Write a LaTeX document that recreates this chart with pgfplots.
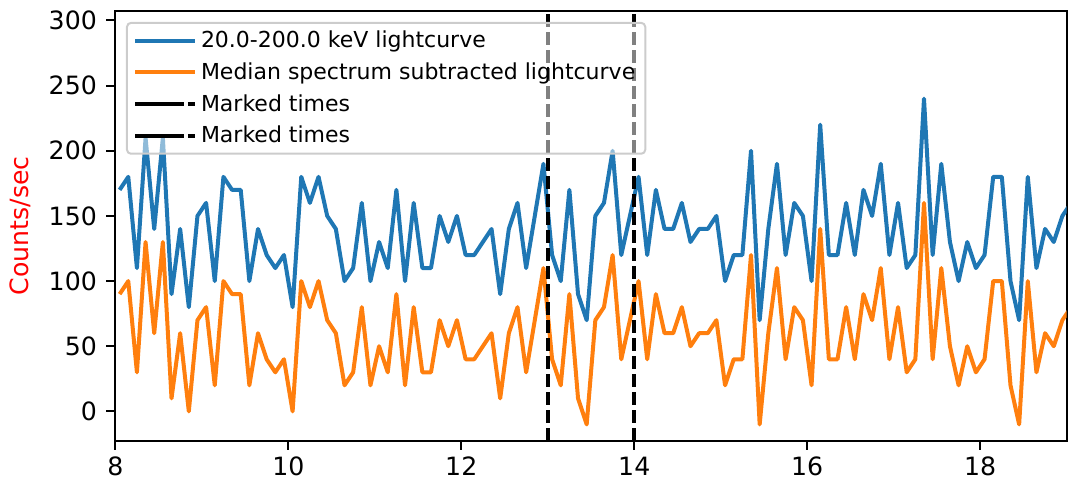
\documentclass[border=0pt]{standalone}
\usepackage{pgfplots}
\pgfplotsset{compat=1.18}
\usepackage{pgfplotstable}
\usepackage{fontspec}
\setmainfont{DejaVu Sans}
\definecolor{mplblue}{HTML}{1F77B4}
\definecolor{mplorange}{HTML}{FF7F0E}
\definecolor{legframe}{HTML}{CCCCCC}

% t = bin centre (s), lc = 20-200 keV lightcurve, sub = median spectrum subtracted
\pgfplotstableread{
t lc sub
8.05 170 90
8.15 180 100
8.25 110 30
8.35 210 130
8.45 140 60
8.55 210 130
8.65 90 10
8.75 140 60
8.85 80 0
8.95 150 70
9.05 160 80
9.15 100 20
9.25 180 100
9.35 170 90
9.45 170 90
9.55 100 20
9.65 140 60
9.75 120 40
9.85 110 30
9.95 120 40
10.05 80 0
10.15 180 100
10.25 160 80
10.35 180 100
10.45 150 70
10.55 140 60
10.65 100 20
10.75 110 30
10.85 160 80
10.95 100 20
11.05 130 50
11.15 110 30
11.25 170 90
11.35 100 20
11.45 160 80
11.55 110 30
11.65 110 30
11.75 150 70
11.85 130 50
11.95 150 70
12.05 120 40
12.15 120 40
12.25 130 50
12.35 140 60
12.45 90 10
12.55 140 60
12.65 160 80
12.75 110 30
12.85 150 70
12.95 190 110
13.05 120 40
13.15 100 20
13.25 170 90
13.35 90 10
13.45 70 -10
13.55 150 70
13.65 160 80
13.75 200 120
13.85 120 40
13.95 150 70
14.05 180 100
14.15 120 40
14.25 170 90
14.35 140 60
14.45 140 60
14.55 160 80
14.65 130 50
14.75 140 60
14.85 140 60
14.95 150 70
15.05 100 20
15.15 120 40
15.25 120 40
15.35 200 120
15.45 70 -10
15.55 140 60
15.65 190 110
15.75 120 40
15.85 160 80
15.95 150 70
16.05 100 20
16.15 220 140
16.25 120 40
16.35 120 40
16.45 160 80
16.55 120 40
16.65 170 90
16.75 150 70
16.85 190 110
16.95 120 40
17.05 160 80
17.15 110 30
17.25 120 40
17.35 240 160
17.45 120 40
17.55 190 110
17.65 130 50
17.75 100 20
17.85 130 50
17.95 110 30
18.05 120 40
18.15 180 100
18.25 180 100
18.35 100 20
18.45 70 -10
18.55 180 100
18.65 110 30
18.75 140 60
18.85 130 50
18.95 150 70
19.05 160 80
}\lightcurve

\pgfplotsset{
  marked/.style={black, line width=2pt, dash pattern=on 6.6pt off 2.4pt,
    legend image code/.code={%
      \path (-4pt,0pt) -- (26pt,0pt);
      \draw[black, line width=2pt] (0pt,0pt) -- (8pt,0pt)
        (10.8pt,0pt) -- (18.8pt,0pt) (22.4pt,0pt) -- (23.6pt,0pt);}},
}

\begin{document}
\begin{tikzpicture}
\path[use as bounding box] (-57.65pt,-21.15pt) rectangle (476.35pt,220.35pt);
\begin{axis}[
  scale only axis,
  width=475.7pt,
  height=215pt,
  xmin=8, xmax=19,
  ymin=-22.5, ymax=307.5,
  xtick={8,10,...,18},
  ytick={0,50,...,300},
  tick pos=left,
  tick align=outside,
  major tick length=4.5pt,
  tick style={black, line width=1pt},
  axis line style={line width=1pt},
  /pgf/number format/assume math mode=true,
  ticklabel style={font=\fontsize{12.6}{15}\selectfont},
  yticklabel style={xshift=-1.2pt},
  ylabel={Counts/sec},
  ylabel style={at={(axis description cs:-0.0995,0.5)}, anchor=center,
    text=red, font=\fontsize{12.6}{15}\selectfont},
  legend style={at={(0.01125,0.974)}, anchor=north west,
    draw=legframe, line width=1pt, rounded corners=2pt,
    fill=white, fill opacity=0.5, draw opacity=1, text opacity=1,
    font=\fontsize{11}{13}\selectfont,
    cells={anchor=west}, inner xsep=3pt, inner ysep=2pt, row sep=2pt},
  legend image code/.code={%
    \path (-4pt,0pt) -- (26pt,0pt);
    \draw[#1] (0pt,0pt) -- (24pt,0pt);},
]
\addplot[mplblue, line width=2pt, line join=round] table[x=t, y=lc] {\lightcurve};
\addlegendentry{20.0-200.0 keV lightcurve}
\addplot[mplorange, line width=2pt, line join=round] table[x=t, y=sub] {\lightcurve};
\addlegendentry{Median spectrum subtracted lightcurve}
\addplot[marked] coordinates {(13,-22.5) (13,307.5)};
\addlegendentry{Marked times}
\addplot[marked] coordinates {(14,-22.5) (14,307.5)};
\addlegendentry{Marked times}
\end{axis}
\end{tikzpicture}
\end{document}
